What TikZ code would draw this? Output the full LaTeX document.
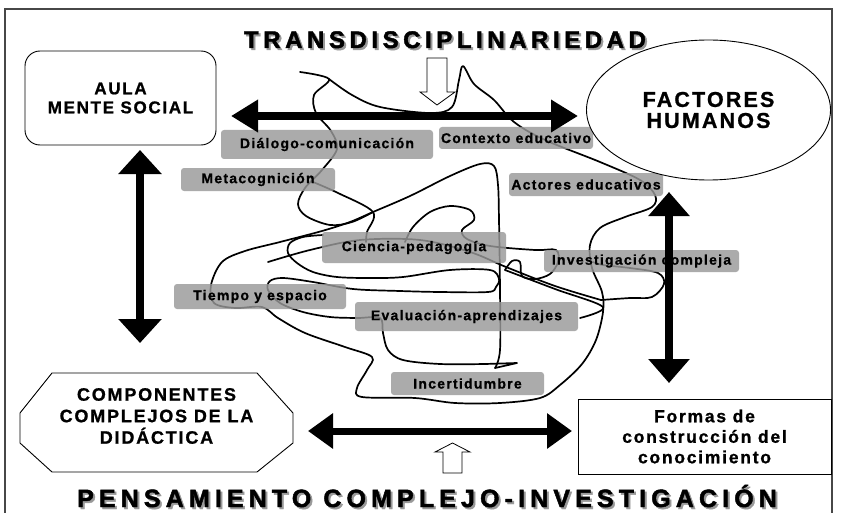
\documentclass[tikz,border=0pt]{standalone}
\usepackage{fontspec}
\setmainfont{Liberation Sans}
\newfontfamily\fontLab[LetterSpace=9, BoldFeatures={FakeBold=0.8}]{Liberation Sans}
\newfontfamily\fontBig[LetterSpace=10, BoldFeatures={FakeBold=1.0}]{Liberation Sans}
\newfontfamily\fontTitleA[LetterSpace=19, BoldFeatures={FakeBold=1.8}]{Liberation Sans}
\newfontfamily\fontTitleB[LetterSpace=20.5, BoldFeatures={FakeBold=1.8}]{Liberation Sans}
\usetikzlibrary{arrows.meta,shapes.geometric}
\definecolor{lblgray}{HTML}{999999}
\begin{document}
\begin{tikzpicture}[x=1pt,y=-1pt,
  lbl/.style={fill=lblgray, fill opacity=0.82, text opacity=1, rounded corners=3pt, inner sep=0pt,
     font=\fontLab\bfseries\fontsize{14}{16}\selectfont},
  scrib/.style={draw=black, line width=1.7pt, line join=round, line cap=round},
  mainbox/.style={draw=black, line width=0.9pt, fill=white, align=center, inner sep=0pt,
     font=\fontBig\bfseries\fontsize{17}{19.5}\selectfont},
  titleA/.style={font=\fontTitleA\bfseries\fontsize{24}{26}\selectfont, anchor=base, inner sep=0pt},
  titleB/.style={font=\fontTitleB\bfseries\fontsize{25}{27}\selectfont, anchor=base, inner sep=0pt},
  hollow/.style={draw=black, line width=0.8pt, fill=white, line join=miter}
]
\useasboundingbox (0,0) rectangle (842,513);
\fill[white] (0,0) rectangle (842,513);
% frame
\draw[line width=1.5pt, draw=black!72] (5,516) -- (5,9) -- (832,9) -- (832,516);

% scribbles
\draw[scrib] plot[smooth, tension=0.55] coordinates {(300,72) (329,79) (314,95) (316,113) (331,131) (337,149) (322,170) (305,188) (298,204) (306,216) (330,225) (352,222) (373,212)};
\draw[scrib] plot[smooth, tension=0.55] coordinates {(329,79) (352,95) (380,107) (430,113) (452,107) (459,80) (463,66) (474,84) (494,100) (514,122) (545,140) (600,162) (640,180) (655,195) (652,207) (625,217) (600,228) (590,245) (592,268) (602,292) (603,312) (596,340) (582,364) (560,385) (540,398) (500,403) (455,403) (415,398) (362,397) (357,388) (367,370) (372,357) (345,347) (305,333) (278,318) (262,307) (235,308) (214,303) (211,285) (222,262) (245,251) (280,242) (322,231) (350,222) (373,212) (410,196) (450,176) (480,164) (494,166) (498,185) (499,220) (500,290) (500,350) (495,368)};
\draw[scrib] (495,368) -- (517,363) -- (485,364);
\draw[scrib] plot[smooth, tension=0.55] coordinates {(313,182) (338,193) (373,212) (367,232) (366,242)};
\draw[scrib] plot[smooth, tension=0.55] coordinates {(485,364) (440,364) (403,360) (388,350) (383,333) (380,318) (357,318) (330,317) (303,312) (280,303) (268,290) (270,281) (283,278) (313,282) (353,289) (400,291) (440,292) (488,292) (496,287) (499,279) (490,270) (450,270) (403,277) (370,278) (337,277) (313,272) (297,263) (288,253) (290,243) (303,237) (323,235)};
\draw[scrib] plot[smooth, tension=0.55] coordinates {(405,242) (413,227) (430,212) (450,206) (470,210) (474,220) (462,230) (467,239) (490,246) (535,250) (556,250) (558,262) (550,274) (535,279) (522,276) (520,262) (512,261) (505,270)};
\draw[scrib] plot[smooth, tension=0.55] coordinates {(505,270) (555,289) (603,307) (580,318)};
\draw[scrib] plot[smooth, tension=0.55] coordinates {(268,262) (310,250) (360,240) (420,240) (470,252) (506,267) (555,286) (601,300)};
\draw[scrib] plot[smooth, tension=0.55] coordinates {(601,300) (630,298) (652,297) (664,284) (658,273) (630,268) (603,265) (593,262)};

% label boxes
\node[lbl, minimum width=212, minimum height=29] (dia) at (327,144.5) {Diálogo-comunicación};
\node[lbl, minimum width=154, minimum height=22] (ctx) at (516,138) {Contexto educativo};
\node[lbl, minimum width=154, minimum height=23] (met) at (258,179.5) {Metacognición};
\node[lbl, minimum width=154, minimum height=23] (act) at (586,184.5) {Actores educativos};
\node[lbl, minimum width=184, minimum height=31] (cie) at (414,247.5) {Ciencia-pedagogía};
\node[lbl, minimum width=195, minimum height=22] (inv) at (641.5,261) {Investigación compleja};
\node[lbl, minimum width=172, minimum height=25] (tie) at (260,296.5) {Tiempo y espacio};
\node[lbl, minimum width=223, minimum height=29] (eva) at (466.5,316.5) {Evaluación-aprendizajes};
\node[lbl, minimum width=153, minimum height=23] (inc) at (467.5,383.5) {Incertidumbre};

% main nodes
\node[mainbox, rounded corners=15pt, minimum width=191, minimum height=94,
      font=\fontBig\bfseries\fontsize{17}{19}\selectfont] (aula) at (120.5,98) {AULA\\MENTE SOCIAL};
\node[mainbox, ellipse, minimum width=244, minimum height=140,
      font=\fontBig\bfseries\fontsize{21.5}{21}\selectfont] (fac) at (708.5,110) {FACTORES\\HUMANOS};
\draw[line width=0.9pt, fill=white] (52,373) -- (257,373) -- (293,413) -- (293,443) -- (257,472) -- (52,472) -- (20,443) -- (20,413) -- cycle;
\node[align=center, inner sep=0pt, font=\fontBig\bfseries\fontsize{18}{21.5}\selectfont] (comp) at (156.5,416) {COMPONENTES\\COMPLEJOS DE LA\\DIDÁCTICA};
\node[mainbox, rectangle, minimum width=253, minimum height=75,
      font=\fontBig\bfseries\fontsize{17.5}{20.5}\selectfont] (for) at (704.5,436.5) {Formas de\\construcción del\\conocimiento};

% arrows
\coordinate (h1a) at (231,116);
\coordinate (h1b) at (578,116);
\draw[line width=8pt, {Triangle[length=27pt,width=31pt]}-{Triangle[length=27pt,width=31pt]}] (h1a) -- (h1b);
\coordinate (v1a) at (140,150);
\coordinate (v1b) at (140,343);
\draw[line width=8pt, {Triangle[length=24pt,width=42pt]}-{Triangle[length=24pt,width=42pt]}] (v1a) -- (v1b);
\coordinate (v2a) at (669,192);
\coordinate (v2b) at (669,383);
\draw[line width=8pt, {Triangle[length=24pt,width=40pt]}-{Triangle[length=24pt,width=40pt]}] (v2a) -- (v2b);
\coordinate (h2a) at (308,431);
\coordinate (h2b) at (572,431);
\draw[line width=7pt, {Triangle[length=25pt,width=34pt]}-{Triangle[length=25pt,width=34pt]}] (h2a) -- (h2b);

% hollow arrows
\draw[hollow] (427,58) -- (447,58) -- (447,92) -- (455,92) -- (437,105) -- (420,92) -- (427,92) -- cycle;
\draw[hollow] (443,473) -- (462,473) -- (462,452) -- (470,452) -- (452.5,443) -- (435,452) -- (443,452) -- cycle;

% titles (with grey drop shadow as in the reference)
\node[titleA, text=black!40] (t1s) at (447,50) {TRANSDISCIPLINARIEDAD};
\node[titleA] (t1) at (445,48) {TRANSDISCIPLINARIEDAD};
\node[titleB, text=black!40] (t2s) at (429,509) {PENSAMIENTO COMPLEJO-INVESTIGACIÓN};
\node[titleB] (t2) at (427,507) {PENSAMIENTO COMPLEJO-INVESTIGACIÓN};
\end{tikzpicture}
\end{document}
